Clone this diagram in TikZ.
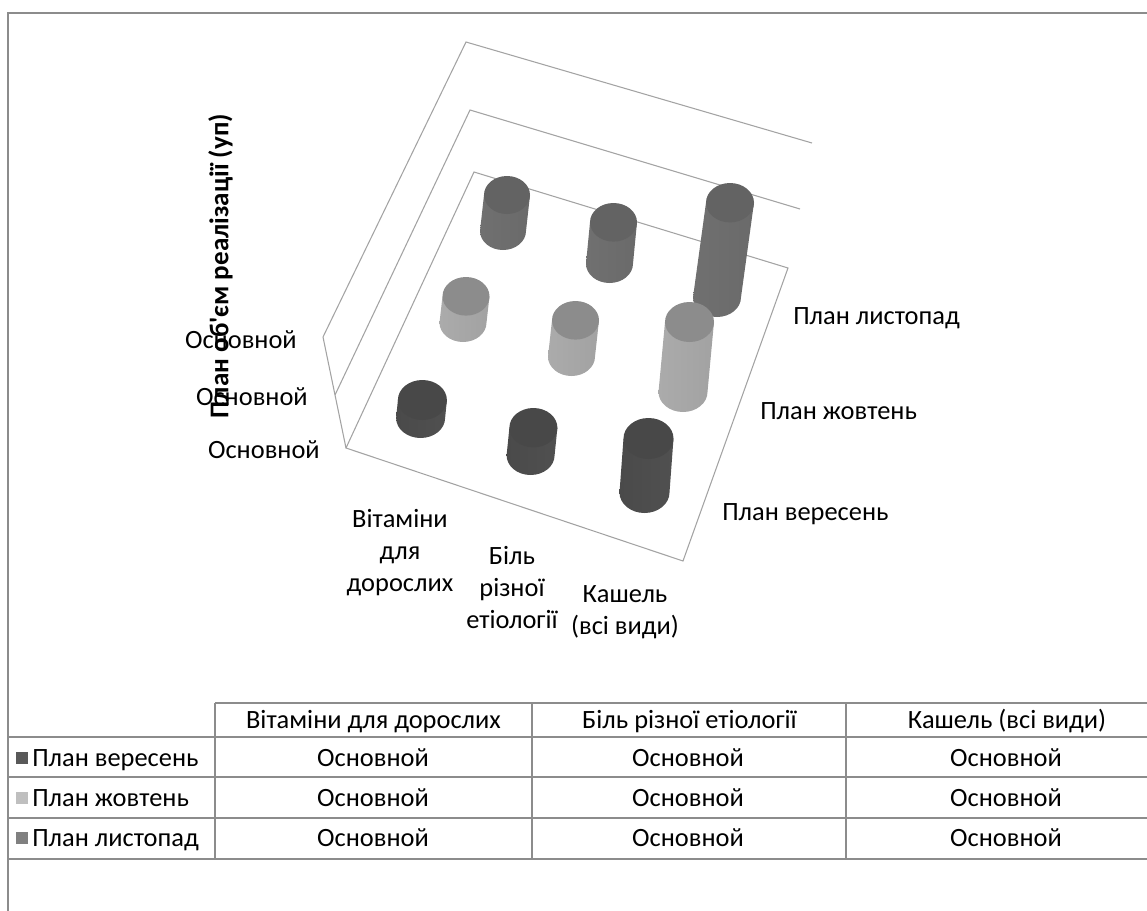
\documentclass[tikz,border=0pt]{standalone}
\usepackage{fontspec}
\setmainfont{Carlito}

\definecolor{framegray}{HTML}{8C8C8C}
\definecolor{wallgray}{HTML}{A3A3A3}
\definecolor{tabgray}{HTML}{8C8C8C}
\definecolor{sepT}{HTML}{484848}
\definecolor{sepL}{HTML}{4A4A4A}
\definecolor{sepM}{HTML}{6B6B6B}
\definecolor{sepR}{HTML}{505050}
\definecolor{sepkey}{HTML}{595959}
\definecolor{octT}{HTML}{8C8C8C}
\definecolor{octL}{HTML}{ABABAB}
\definecolor{octM}{HTML}{C8C8C8}
\definecolor{octR}{HTML}{A2A2A2}
\definecolor{octkey}{HTML}{BFBFBF}
\definecolor{novT}{HTML}{636363}
\definecolor{novL}{HTML}{707070}
\definecolor{novM}{HTML}{8E8E8E}
\definecolor{novR}{HTML}{6A6A6A}
\definecolor{novkey}{HTML}{808080}

% bottom centre x,y; top centre x,y; radii; series
\newcommand{\barcyl}[7]{%
  \path[#7side] (#3-#5,#4) -- (#1-#5,#2) arc[start angle=180, end angle=0, x radius=#5, y radius=#6] -- (#3+#5,#4) -- cycle;
  \path[#7top] (#3,#4) ellipse[x radius=#5, y radius=#6];
}

\begin{document}
\begin{tikzpicture}[x=0.75pt,y=-0.75pt,
  lbl/.style={inner sep=0pt, font=\fontsize{19.8}{24}\selectfont},
  one/.style={lbl, text height=12.6pt, text depth=0pt},
  cat/.style={lbl, align=center},
  wall/.style={draw=wallgray, line width=0.8pt},
  tab/.style={draw=tabgray, line width=1.1pt},
  sepside/.style={left color=sepL, middle color=sepM, right color=sepR},
  septop/.style={fill=sepT},
  octside/.style={left color=octL, middle color=octM, right color=octR},
  octtop/.style={fill=octT},
  novside/.style={left color=novL, middle color=novM, right color=novR},
  novtop/.style={fill=novT}]
\useasboundingbox (0,0) rectangle (1147,911);

\draw[draw=framegray, line width=1.6pt] (8,915) -- (8,13) -- (1150,13);

% floor and back walls
\draw[wall] (346,448) -- (474,172) -- (788,268) -- (683,561) -- cycle;
\draw[wall] (346,448) -- (323,337);
\draw[wall] (335,395) -- (470,110) -- (800,209);
\draw[wall] (323,337) -- (466,42) -- (812,143);

% back row
\barcyl{503}{231}{507}{195}{23}{19}{nov}
\barcyl{609.5}{263.7}{613.5}{222.3}{23.5}{19.3}{nov}
\barcyl{717}{297.3}{730}{202.7}{24}{19.7}{nov}
% middle row
\barcyl{463}{322.7}{466}{296.3}{23.5}{19.3}{oct}
\barcyl{571.5}{356.7}{575.5}{320.3}{23.5}{19.3}{oct}
\barcyl{683}{392}{689.5}{322}{24.5}{20}{oct}
% front row
\barcyl{420.6}{418}{422.4}{400}{24.5}{20}{sep}
\barcyl{530.6}{455.3}{533.4}{427.7}{24}{19.7}{sep}
\barcyl{644.5}{492.5}{648.5}{438.5}{25}{20.5}{sep}

% axis texts
\node[one, anchor=east] (ztick3) at (297,340) {Основной};
\node[one, anchor=east] (ztick2) at (308,397) {Основной};
\node[one, anchor=east] (ztick1) at (320,450) {Основной};
\node[one, font=\fontsize{20.3}{24}\selectfont\bfseries, rotate=90] (ztitle) at (220,266) {План об\textquotesingle єм реалізації (уп)};

\node[cat] (catvit) at (400,553) {Вітаміни\\для\\дорослих};
\node[cat] (catbil) at (512,587) {Біль\\різної\\етіології};
\node[cat] (catkas) at (625,612) {Кашель\\(всі види)};

\node[one, anchor=west] (sernov) at (793,316) {План листопад};
\node[one, anchor=west] (seroct) at (760,411) {План жовтень};
\node[one, anchor=west] (sersep) at (722,512) {План вересень};

% data table
\draw[tab] (215,703) -- (1150,703);
\draw[tab] (8,737) -- (1150,737);
\draw[tab] (8,777) -- (1150,777);
\draw[tab] (8,818) -- (1150,818);
\draw[tab] (8,859) -- (1150,859);
\draw[tab] (215,703) -- (215,859);
\draw[tab] (532,703) -- (532,859);
\draw[tab] (846,703) -- (846,859);

\node[one] (hvit) at (373.5,720) {Вітаміни для дорослих};
\node[one] (hbil) at (689.5,720) {Біль різної етіології};
\node[one] (hkas) at (1007,720) {Кашель (всі види)};

\fill[sepkey] (16,752) rectangle (28,764);
\fill[octkey] (16,792) rectangle (28,804);
\fill[novkey] (16,832) rectangle (28,844);
\node[one, anchor=west] (rsep) at (32,758) {План вересень};
\node[one, anchor=west] (roct) at (32,798) {План жовтень};
\node[one, anchor=west] (rnov) at (32,838) {План листопад};

\node[one] (c11) at (373,758) {Основной};
\node[one] (c12) at (688,758) {Основной};
\node[one] (c13) at (1006,758) {Основной};
\node[one] (c21) at (373,798) {Основной};
\node[one] (c22) at (688,798) {Основной};
\node[one] (c23) at (1006,798) {Основной};
\node[one] (c31) at (373,838) {Основной};
\node[one] (c32) at (688,838) {Основной};
\node[one] (c33) at (1006,838) {Основной};
\end{tikzpicture}
\end{document}
